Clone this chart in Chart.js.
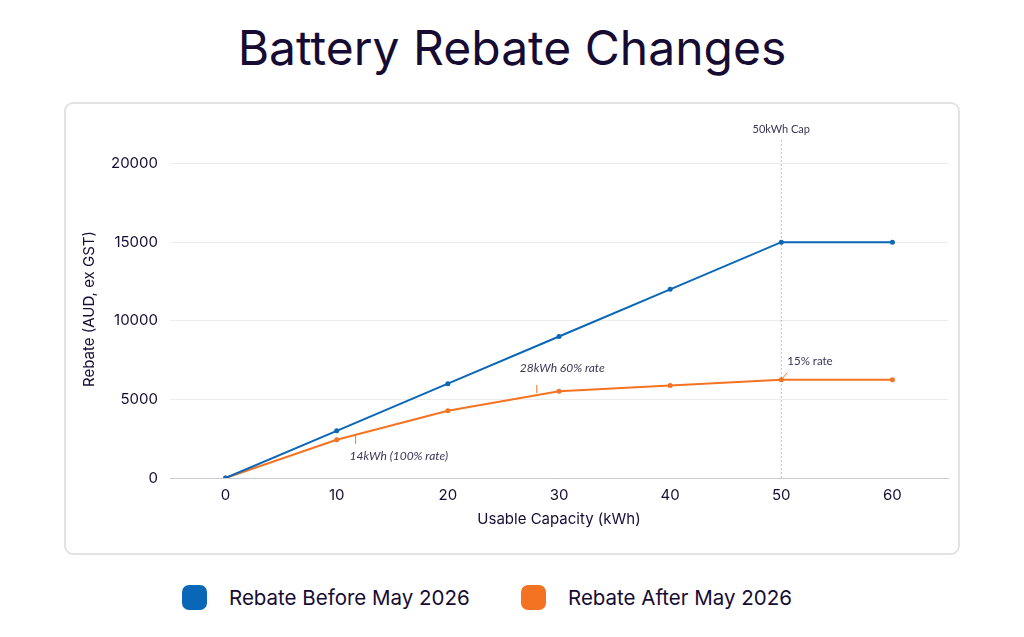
<!DOCTYPE html>
<html>
<head>
<meta charset="utf-8">
<title>Battery Rebate Changes</title>
<script src="https://cdn.jsdelivr.net/npm/chart.js@4.4.1/dist/chart.umd.min.js"></script>
<style>
  html, body { margin: 0; background: #fff; }
  body { width: 1024px; height: 637px; position: relative; overflow: hidden; font-family: Inter, "Noto Sans", sans-serif; color: #160c33; }
  h1 { position: absolute; top: 0; left: 0; width: 1024px; margin: 0; text-align: center; font-weight: 400; font-size: 48px; line-height: 96px; }
  .card { position: absolute; left: 64px; top: 102px; width: 892px; height: 449px; border: 2px solid #e3e3e3; border-radius: 9px; }
  .legend-item { position: absolute; top: 585px; display: flex; align-items: center; font-size: 20.5px; }
  .legend-item .box { width: 25px; height: 25px; border-radius: 7px; margin-right: 22px; }
</style>
</head>
<body>
<h1>Battery Rebate Changes</h1>
<div class="card"><canvas id="chart" width="892" height="449"></canvas></div>
<div id="legend"></div>
<script>
// values
const capacity = [0, 10, 20, 30, 40, 50, 60];
const rebateBefore = [0, 3000, 6000, 9000, 12000, 15000, 15000];
const rebateAfter = [0, 2430, 4280, 5520, 5880, 6250, 6250];
const yTicks = [0, 5000, 10000, 15000, 20000];
const seriesNames = ['Rebate Before May 2026', 'Rebate After May 2026'];
const capLabel = '50kWh Cap';
const noteLabels = ['14kWh (100% rate)', '28kWh 60% rate', '15% rate'];

const BLUE = '#0a66b7';
const ORANGE = '#f47322';
const INK = '#160c33';

function points(ys) {
  return capacity.map((c, i) => ({ x: c, y: ys[i] }));
}

// dotted cap line + small notes on the orange line
const notesPlugin = {
  id: 'notes',
  beforeDatasetsDraw(chart) {
    const { ctx, chartArea, scales: { x } } = chart;
    const px = x.getPixelForValue(50);
    ctx.save();
    ctx.strokeStyle = '#bdbdbd';
    ctx.lineWidth = 1;
    ctx.setLineDash([2, 2]);
    ctx.beginPath();
    ctx.moveTo(px, chartArea.top);
    ctx.lineTo(px, chartArea.bottom);
    ctx.stroke();
    ctx.restore();
  },
  afterDatasetsDraw(chart) {
    const { ctx, chartArea, scales: { x, y } } = chart;
    ctx.save();
    ctx.fillStyle = '#3b3552';
    ctx.textBaseline = 'middle';

    ctx.font = '11px Lato, "Open Sans", sans-serif';
    ctx.textAlign = 'center';
    ctx.fillText(capLabel, x.getPixelForValue(50), chartArea.top - 11);

    ctx.strokeStyle = ORANGE;
    ctx.lineWidth = 1;

    // 14kWh tick
    let tx = x.getPixelForValue(11.7);
    let ty = y.getPixelForValue(2745);
    ctx.beginPath(); ctx.moveTo(tx, ty); ctx.lineTo(tx, ty + 9); ctx.stroke();
    ctx.font = 'italic 12px Lato, "Open Sans", sans-serif';
    ctx.textAlign = 'left';
    ctx.fillText(noteLabels[0], tx - 6, ty + 21);

    // 28kWh tick
    tx = x.getPixelForValue(28);
    ty = y.getPixelForValue(5270);
    ctx.beginPath(); ctx.moveTo(tx, ty - 2); ctx.lineTo(tx, ty - 10); ctx.stroke();
    ctx.fillText(noteLabels[1], tx - 17, ty - 27);

    // 15% tick
    tx = x.getPixelForValue(50);
    ty = y.getPixelForValue(6250);
    ctx.beginPath(); ctx.moveTo(tx, ty); ctx.lineTo(tx + 6, ty - 7); ctx.stroke();
    ctx.font = '11.5px Lato, "Open Sans", sans-serif';
    ctx.fillText(noteLabels[2], tx + 6, ty - 18);
    ctx.restore();
  }
};

const chart = new Chart(document.getElementById('chart'), {
  type: 'line',
  data: {
    datasets: [
      { label: seriesNames[0], data: points(rebateBefore), borderColor: BLUE, backgroundColor: BLUE },
      { label: seriesNames[1], data: points(rebateAfter), borderColor: ORANGE, backgroundColor: ORANGE }
    ]
  },
  options: {
    responsive: false,
    animation: false,
    elements: {
      line: { borderWidth: 2, tension: 0 },
      point: { radius: 2.5, borderWidth: 0, hoverRadius: 3 }
    },
    layout: { padding: { left: 14, right: 10, top: 36, bottom: 25 } },
    plugins: { legend: { display: false }, tooltip: { enabled: false } },
    scales: {
      x: {
        type: 'linear',
        min: -5,
        max: 65,
        afterBuildTicks: s => { s.ticks = capacity.map(v => ({ value: v })); },
        afterFit: s => { s.height = 50; },
        grid: { display: false },
        border: { display: true, color: '#c9c9d5', width: 1 },
        ticks: { padding: 0, color: INK, font: { family: 'Inter', size: 15 }, callback: v => String(v) },
        title: { display: true, text: 'Usable Capacity (kWh)', color: INK, padding: 0, font: { family: 'Inter', size: 15 } }
      },
      y: {
        min: 0,
        max: 21500,
        afterBuildTicks: s => { s.ticks = yTicks.map(v => ({ value: v })); },
        afterFit: s => { s.width = 90; },
        grid: { color: '#ececec', drawTicks: false },
        border: { display: false },
        ticks: { padding: 12, color: INK, font: { family: 'Inter', size: 15 }, callback: v => String(v) },
        title: { display: true, text: 'Rebate (AUD, ex GST)', color: INK, padding: 0, font: { family: 'Inter', size: 15 } }
      }
    }
  },
  plugins: [notesPlugin]
});

// legend under the card, built from the datasets
const legendLeft = [182, 521];
const legendEl = document.getElementById('legend');
chart.data.datasets.forEach((ds, i) => {
  const item = document.createElement('div');
  item.className = 'legend-item';
  item.style.left = legendLeft[i] + 'px';
  item.innerHTML = `<span class="box" style="background:${ds.borderColor}"></span><span>${ds.label}</span>`;
  legendEl.appendChild(item);
});
</script>
</body>
</html>
